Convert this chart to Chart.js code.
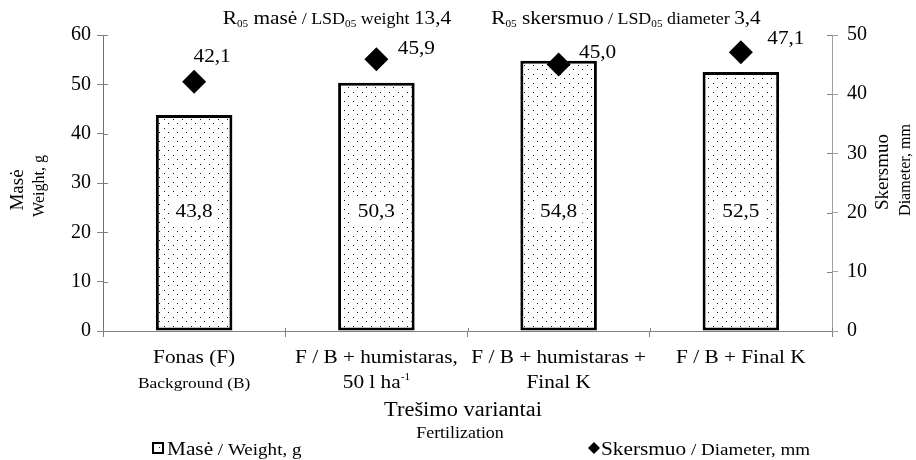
<!DOCTYPE html>
<html>
<head>
<meta charset="utf-8">
<script src="https://cdn.jsdelivr.net/npm/chart.js@4.4.1/dist/chart.umd.min.js"></script>
<style>
  html, body { margin: 0; padding: 0; background: #fff; }
</style>
</head>
<body>
<canvas id="chart" width="916" height="460"></canvas>
<script>
// Data
const categories = ['Fonas (F)', 'F / B + humistaras, 50 l ha-1', 'F / B + humistaras + Final K', 'F / B + Final K'];
const weight = [43.8, 50.3, 54.8, 52.5];      // Masė / Weight, g (left axis)
const diameter = [42.1, 45.9, 45.0, 47.1];    // Skersmuo / Diameter, mm (right axis)
const weightTicks = [0, 10, 20, 30, 40, 50, 60];
const diameterTicks = [0, 10, 20, 30, 40, 50];

const FONT = "'Liberation Serif', 'Times New Roman', serif";
const BIG = 19, SMALL = 15.5, TINY = 10;
const SX = 1.12; // the source text is a little wider than Liberation Serif
const fmt = v => v.toFixed(1).replace('.', ',');

// label offsets for the diamond values (styling)
const diamondLabelShift = [[18, -27], [40, -12], [39, -14], [45, -15]];

// Dotted fill like the Excel pattern
const tile = document.createElement('canvas');
tile.width = 9; tile.height = 9;
const tctx = tile.getContext('2d');
tctx.fillStyle = '#fff';
tctx.fillRect(0, 0, 9, 9);
tctx.fillStyle = '#111';
tctx.fillRect(2, 2, 1, 1);
tctx.fillRect(6, 6, 1, 1);
const dots = document.getElementById('chart').getContext('2d').createPattern(tile, 'repeat');

// Draw a line made of segments [text, size, dy] at baseline y
function rich(ctx, segs, x, y, align) {
    let w = 0;
    segs.forEach(s => { ctx.font = s[1] + 'px ' + FONT; w += ctx.measureText(s[0]).width * SX; });
    let cx = align === 'left' ? x : x - w / 2;
    ctx.textAlign = 'left';
    ctx.textBaseline = 'alphabetic';
    segs.forEach(s => {
        ctx.font = s[1] + 'px ' + FONT;
        ctx.save();
        ctx.translate(cx, y + (s[2] || 0));
        ctx.scale(SX, 1);
        ctx.fillText(s[0], 0, 0);
        ctx.restore();
        cx += ctx.measureText(s[0]).width * SX;
    });
}

const catLines = [
    [[['Fonas (F)', BIG]], [['Background (B)', SMALL]]],
    [[['F / B + humistaras,', BIG]], [['50 l ha', BIG], ['-1', TINY, -8]]],
    [[['F / B + humistaras +', BIG]], [['Final K', BIG]]],
    [[['F / B + Final K', BIG]]]
];

const textPlugin = {
    id: 'texts',
    afterDraw(chart) {
        const ctx = chart.ctx;
        const x = chart.scales.x, y = chart.scales.y, y1 = chart.scales.y1;
        const area = chart.chartArea;
        ctx.save();
        ctx.fillStyle = '#000';

        // inner halves of the tick marks
        ctx.lineWidth = 1;
        ctx.strokeStyle = '#808080';
        ctx.beginPath();
        weightTicks.forEach(t => { const py = Math.round(y.getPixelForValue(t)) + 0.5; ctx.moveTo(area.left, py); ctx.lineTo(area.left + 5, py); });
        diameterTicks.forEach(t => { const py = Math.round(y1.getPixelForValue(t)) + 0.5; ctx.moveTo(area.right, py); ctx.lineTo(area.right - 5, py); });
        for (let i = 0; i <= categories.length; i++) {
            const px = Math.round(area.left + (area.right - area.left) * i / categories.length) + 0.5;
            ctx.moveTo(px, area.bottom); ctx.lineTo(px, area.bottom - 3);
        }
        // x axis runs a bit past the left axis
        ctx.moveTo(area.left - 6, Math.round(area.bottom) + 0.5);
        ctx.lineTo(area.left, Math.round(area.bottom) + 0.5);
        ctx.stroke();

        // titles at the top
        rich(ctx, [['R', BIG], ['05', TINY, 3], [' masė', BIG], [' / LSD', 16], ['05', TINY, 3], [' weight ', 16], ['13,4', BIG]], 337, 24);
        rich(ctx, [['R', BIG], ['05', TINY, 3], [' skersmuo', BIG], [' / LSD', 16], ['05', TINY, 3], [' diameter ', 16], ['3,4', BIG]], 626, 24);

        // category labels
        catLines.forEach((lines, i) => {
            const cx = x.getPixelForValue(i);
            lines.forEach((segs, j) => rich(ctx, segs, cx, 363 + j * 25));
        });

        // x axis title
        rich(ctx, [['Trešimo variantai', 20]], 463, 416);
        rich(ctx, [['Fertilization', 16]], 460, 438);

        // y axis titles
        const vtext = (txt, size, cx, cy) => {
            ctx.save();
            ctx.translate(cx, cy);
            ctx.rotate(-Math.PI / 2);
            ctx.font = size + 'px ' + FONT;
            ctx.textAlign = 'center';
            ctx.textBaseline = 'middle';
            ctx.fillText(txt, 0, 0);
            ctx.restore();
        };
        vtext('Masė', BIG, 18, 190);
        vtext('Weight, g', 16, 40, 186);
        vtext('Skersmuo', BIG, 883, 172);
        vtext('Diameter, mm', 16, 906, 170);

        // legend
        ctx.fillStyle = dots;
        ctx.fillRect(153, 443, 10, 10);
        ctx.strokeStyle = '#000';
        ctx.lineWidth = 2;
        ctx.strokeRect(153, 443, 10, 10);
        ctx.fillStyle = '#000';
        rich(ctx, [['Masė', BIG], [' / Weight, g', 17]], 167, 455, 'left');

        ctx.beginPath();
        ctx.moveTo(594, 442); ctx.lineTo(600, 448); ctx.lineTo(594, 454); ctx.lineTo(588, 448);
        ctx.closePath();
        ctx.fill();
        rich(ctx, [['Skersmuo', BIG], [' / Diameter, mm', 17]], 601, 455, 'left');

        // bar value labels with a white box
        chart.getDatasetMeta(0).data.forEach((bar, i) => {
            const t = fmt(weight[i]);
            const py = y.getPixelForValue(24.5);
            ctx.font = BIG + 'px ' + FONT;
            const tw = ctx.measureText(t).width * SX;
            ctx.fillStyle = '#fff';
            ctx.fillRect(bar.x - tw / 2 - 5, py - 14, tw + 10, 27);
            ctx.fillStyle = '#000';
            rich(ctx, [[t, BIG]], bar.x, py + 7);
        });

        // diamond value labels
        chart.getDatasetMeta(1).data.forEach((pt, i) => {
            rich(ctx, [[fmt(diameter[i]), BIG]], pt.x + diamondLabelShift[i][0], pt.y + diamondLabelShift[i][1] + 7);
        });
        ctx.restore();
    }
};

const ctxMain = document.getElementById('chart').getContext('2d');
new Chart(ctxMain, {
    type: 'bar',
    data: {
        labels: categories,
        datasets: [{
            label: 'Masė / Weight, g',
            data: weight,
            yAxisID: 'y',
            backgroundColor: dots,
            borderColor: '#000',
            borderWidth: 3,
            borderSkipped: false,
            categoryPercentage: 1,
            barPercentage: 0.42,
            order: 1
        }, {
            type: 'line',
            label: 'Skersmuo / Diameter, mm',
            data: diameter,
            yAxisID: 'y1',
            showLine: false,
            pointStyle: 'rectRot',
            pointRadius: 12,
            pointBackgroundColor: '#000',
            pointBorderColor: '#000',
            pointBorderWidth: 0,
            order: 0
        }]
    },
    options: {
        responsive: false,
        animation: false,
        layout: { padding: { top: 35, left: 0, right: 0, bottom: 0 } },
        plugins: {
            legend: { display: false },
            tooltip: { enabled: false }
        },
        scales: {
            x: {
                offset: true,
                grid: { offset: true, drawOnChartArea: false, tickLength: 6, color: '#808080' },
                border: { color: '#808080' },
                ticks: { display: false },
                afterFit: s => { s.height = 129; }
            },
            y: {
                position: 'left',
                min: 0, max: 60,
                grid: { drawOnChartArea: false, tickLength: 6, color: '#808080' },
                border: { color: '#707070' },
                ticks: { stepSize: 10, color: '#000', padding: 6, font: { family: FONT, size: 20 } },
                afterFit: s => { s.width = 103; }
            },
            y1: {
                position: 'right',
                min: 0, max: 50,
                grid: { drawOnChartArea: false, tickLength: 6, color: '#a0a0a0' },
                border: { color: '#a0a0a0' },
                ticks: { stepSize: 10, color: '#000', padding: 9, font: { family: FONT, size: 20 } },
                afterFit: s => { s.width = 84; }
            }
        }
    },
    plugins: [textPlugin]
});
</script>
</body>
</html>
